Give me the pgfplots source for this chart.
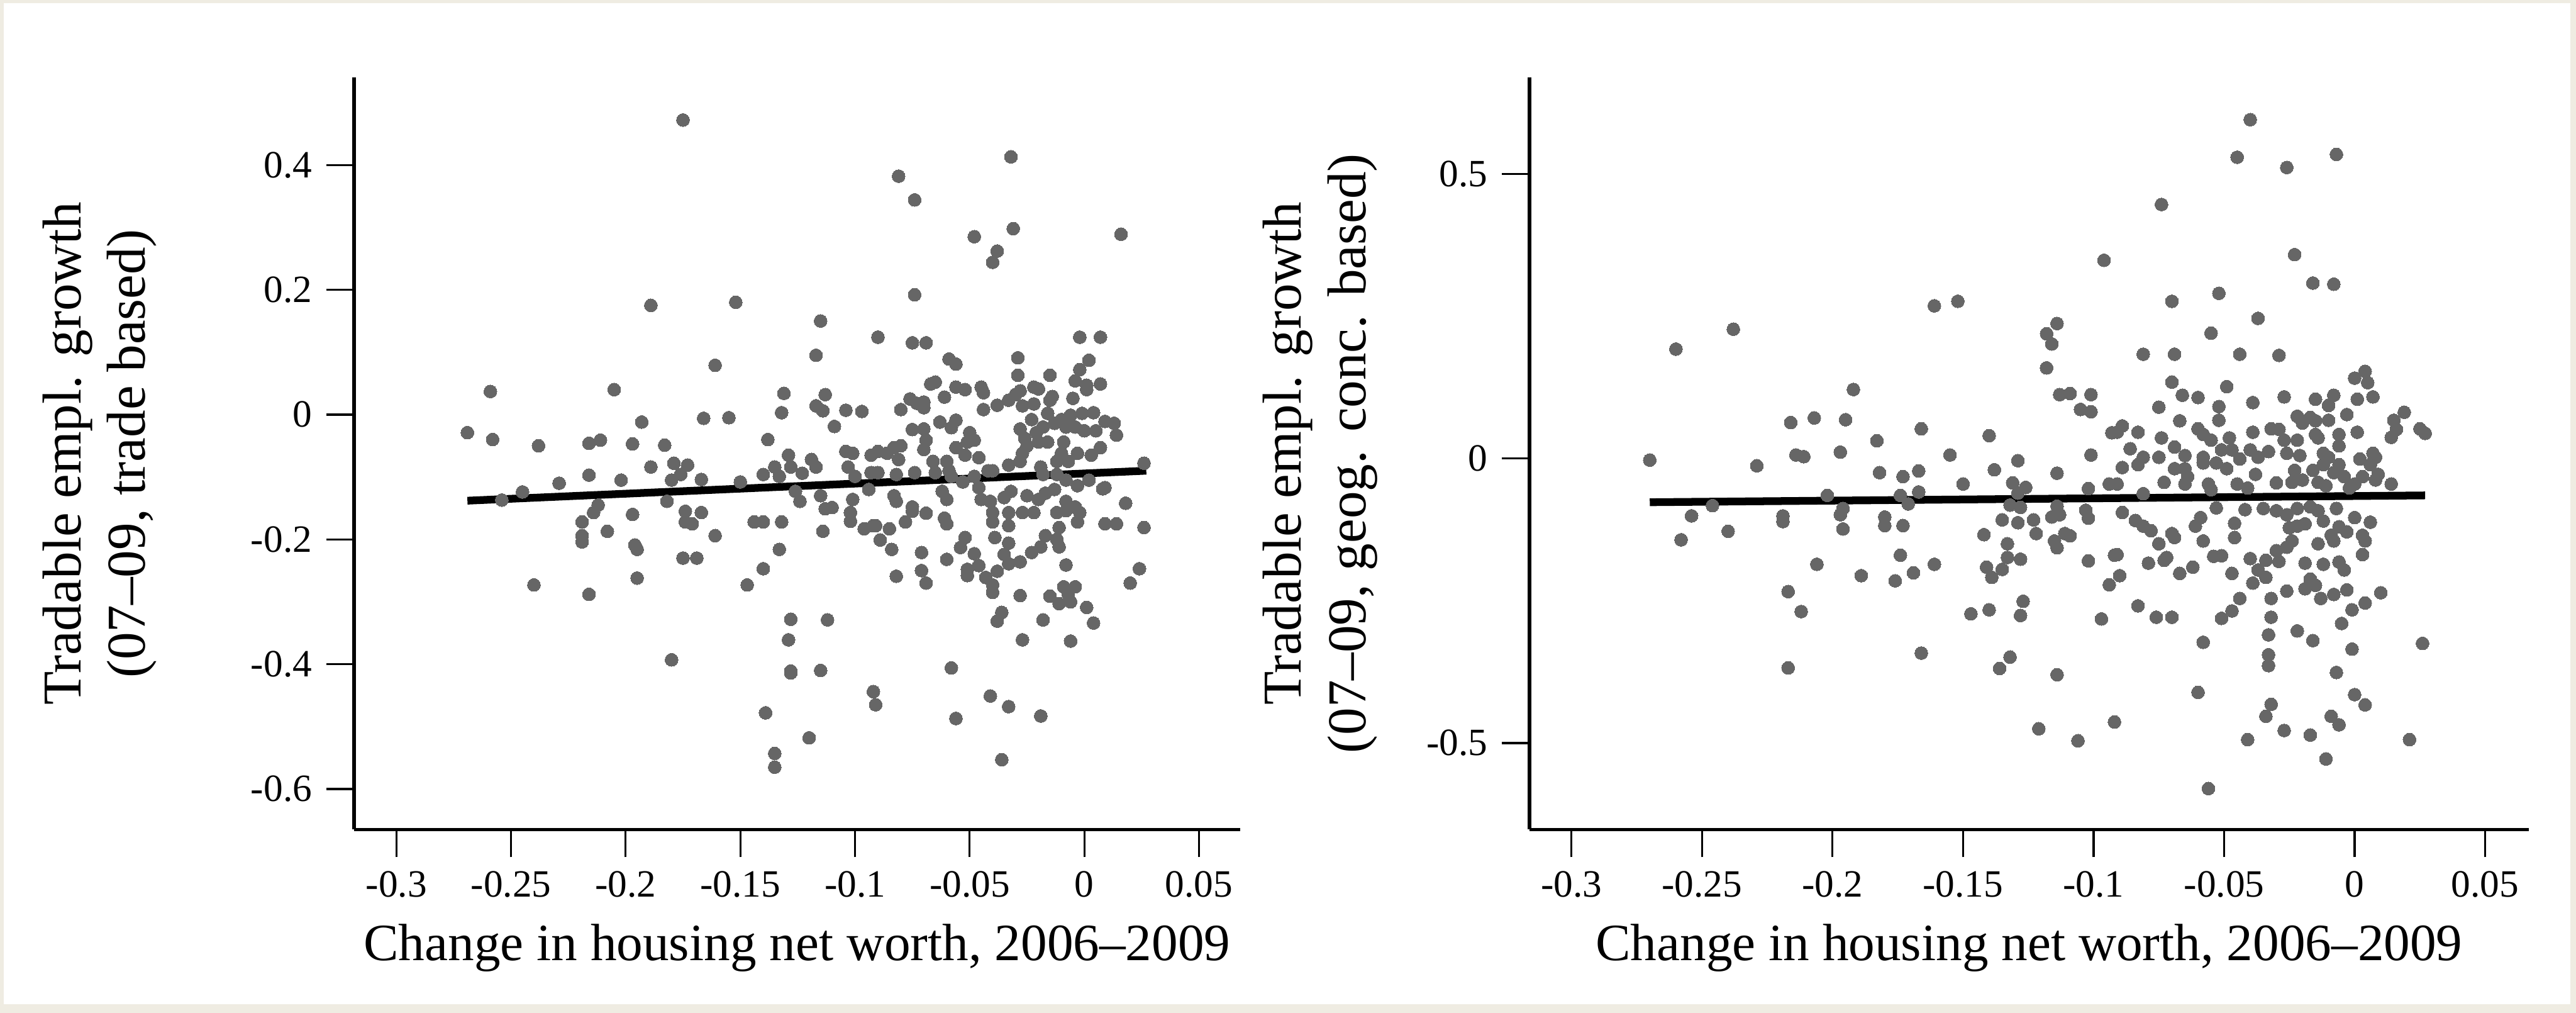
\documentclass[border=0pt]{standalone}
\usepackage{fontspec}
\setmainfont{Liberation Serif}
\usepackage{pgfplots}
\pgfplotsset{compat=1.18}

\definecolor{pagebg}{RGB}{239,236,226}
\definecolor{dotgray}{RGB}{102,102,102}

\pgfplotsset{
  panel/.style={
    scale only axis,
    height=185.2pt,
    axis x line*=bottom,
    axis y line*=left,
    axis line style={line width=0.9pt, -},
    tick align=outside,
    major tick length=6.8pt,
    every tick/.style={black, line width=0.5pt},
    tick label style={font=\fontsize{9.5}{11}\selectfont},
    xtick={-0.3,-0.25,-0.2,-0.15,-0.1,-0.05,0,0.05},
    xticklabels={-0.3,-0.25,-0.2,-0.15,-0.1,-0.05,0,0.05},
    xlabel={Change in housing net worth, 2006--2009},
    xlabel style={font=\fontsize{12.9}{15}\selectfont, at={(axis description cs:0.5,-0.174)}, anchor=base},
    ylabel style={font=\fontsize{13.5}{15.9}\selectfont, align=center, rotate=0, anchor=north, inner sep=0pt},
    clip=false,
  },
  dots/.style={only marks, mark=*, mark size=1.6pt, color=dotgray, mark options={fill=dotgray, draw=dotgray, line width=0pt}},
  fit/.style={black, line width=1.9pt, no marks},
}

\begin{document}
\begin{tikzpicture}
% page background and white panel
\fill[pagebg] (-87.2pt,-45.1pt) rectangle (547.5pt,204.3pt);
\fill[white] (-86.3pt,-43.0pt) rectangle (546.1pt,203.5pt);

% left panel: trade based
\begin{axis}[panel,
  at={(0pt,0pt)}, anchor=south west,
  width=218.4pt,
  xmin=-0.3185, xmax=0.068,
  ymin=-0.665, ymax=0.540,
  ytick={-0.6,-0.4,-0.2,0,0.2,0.4},
  yticklabels={-0.6,-0.4,-0.2,0,0.2,0.4},
  ylabel={Tradable empl. growth\\(07--09, trade based)},
  ylabel style={at={(axis description cs:-0.352,0.5)}},
]
\addplot[dots] coordinates {
(-0.269,-0.029)(-0.259,0.037)(-0.258,-0.040)(-0.254,-0.137)(-0.245,-0.124)(-0.240,-0.273)(-0.238,-0.050)(-0.229,-0.110)
(-0.216,-0.046)(-0.211,-0.041)(-0.197,-0.047)(-0.193,-0.012)(-0.183,-0.049)(-0.216,-0.097)(-0.202,-0.105)(-0.189,-0.084)
(-0.179,-0.078)(-0.173,-0.081)(-0.176,-0.096)(-0.180,-0.105)(-0.167,-0.104)(-0.150,-0.108)(-0.166,-0.006)(-0.155,-0.005)(-0.161,0.079)
(-0.140,-0.096)(-0.135,-0.084)(-0.133,-0.099)(-0.129,-0.065)(-0.128,-0.084)(-0.123,-0.094)(-0.119,-0.072)(-0.117,-0.084)
(-0.104,-0.059)(-0.101,-0.062)(-0.103,-0.084)(-0.100,-0.099)(-0.093,-0.065)(-0.093,-0.093)(-0.094,-0.120)
(-0.126,-0.123)(-0.124,-0.139)(-0.115,-0.130)(-0.113,-0.151)(-0.110,-0.149)(-0.101,-0.136)(-0.102,-0.157)(-0.102,-0.171)
(-0.096,-0.183)(-0.092,-0.178)(-0.114,-0.187)(-0.132,-0.172)(-0.144,-0.172)(-0.140,-0.172)(-0.133,-0.216)(-0.140,-0.247)
(-0.147,-0.273)(-0.128,-0.328)(-0.112,-0.329)(-0.129,-0.361)
(-0.161,-0.194)(-0.175,-0.230)(-0.169,-0.230)(-0.174,-0.155)(-0.167,-0.157)(-0.174,-0.172)(-0.171,-0.175)(-0.182,-0.139)
(-0.197,-0.160)(-0.196,-0.209)(-0.195,-0.216)(-0.195,-0.262)(-0.216,-0.288)(-0.208,-0.187)(-0.219,-0.194)(-0.219,-0.204)
(-0.219,-0.172)(-0.214,-0.157)(-0.212,-0.145)
(-0.205,0.040)(-0.189,0.175)(-0.175,0.472)(-0.152,0.180)(-0.138,-0.040)(-0.131,0.034)(-0.132,0.003)(-0.113,0.032)
(-0.117,0.014)(-0.114,0.006)(-0.104,0.007)(-0.097,0.005)(-0.109,-0.019)(-0.117,0.095)(-0.115,0.150)(-0.090,0.124)
(-0.180,-0.393)(-0.139,-0.478)(-0.135,-0.543)(-0.135,-0.565)(-0.128,-0.411)(-0.128,-0.414)(-0.120,-0.518)(-0.115,-0.410)
(-0.092,-0.444)(-0.091,-0.465)
(-0.075,0.115)(-0.069,0.115)(-0.059,0.089)(-0.056,0.081)(-0.002,0.124)(0.007,0.124)(-0.029,0.091)(-0.029,0.063)
(-0.015,0.063)(0.002,0.087)(-0.002,0.072)(-0.004,0.054)(0.001,0.047)(0.007,0.049)(0.001,0.040)(-0.067,0.049)
(-0.065,0.052)(-0.056,0.044)(-0.052,0.040)(-0.045,0.044)(-0.044,0.035)(-0.061,0.028)(-0.070,0.020)(-0.073,0.018)
(-0.076,0.025)(-0.070,0.011)(-0.080,0.008)(-0.044,0.008)(-0.038,0.015)(-0.033,0.023)(-0.030,0.032)(-0.028,0.038)
(-0.027,0.014)(-0.022,0.017)(-0.022,0.044)(-0.020,0.041)(-0.014,0.029)(-0.015,0.023)(-0.005,0.026)(-0.023,-0.008)
(-0.016,0.002)(-0.075,-0.024)(-0.070,-0.023)(-0.063,-0.012)(-0.056,-0.009)(-0.058,-0.021)(-0.069,-0.041)(-0.070,-0.056)
(-0.050,-0.029)(-0.048,-0.041)(-0.051,-0.044)(-0.056,-0.053)(-0.052,-0.065)(-0.046,-0.069)(-0.080,-0.050)(-0.083,-0.053)
(-0.090,-0.059)(-0.086,-0.062)(-0.081,-0.072)(-0.090,-0.093)(-0.082,-0.096)(-0.074,-0.093)(-0.066,-0.075)(-0.065,-0.093)
(-0.060,-0.075)(-0.059,-0.090)(-0.028,-0.023)(-0.026,-0.038)(-0.021,-0.029)(-0.018,-0.020)(-0.013,-0.014)(-0.010,-0.008)
(-0.006,-0.001)(-0.001,0.002)(0.004,0.003)(0.009,-0.011)(0.013,-0.014)(0.014,-0.033)(0.005,-0.026)(0.000,-0.026)
(-0.004,-0.020)(-0.008,-0.020)(0.007,-0.053)(0.003,-0.065)(-0.003,-0.062)(-0.009,-0.044)(-0.010,-0.062)(-0.012,-0.075)
(-0.007,-0.075)(-0.025,-0.050)(-0.027,-0.062)(-0.020,-0.044)(-0.016,-0.044)(-0.019,-0.084)(-0.028,-0.075)(-0.033,-0.081)
(-0.040,-0.090)(0.026,-0.078)(0.008,-0.119)(0.002,-0.105)(-0.003,-0.114)(-0.008,-0.105)(0.018,-0.142)(-0.083,-0.130)
(-0.082,-0.139)(-0.075,-0.148)(-0.062,-0.123)(-0.060,-0.136)(-0.053,-0.108)(-0.046,-0.117)(-0.045,-0.136)(-0.041,-0.139)
(-0.035,-0.133)(-0.032,-0.123)(-0.025,-0.130)(-0.020,-0.136)(-0.017,-0.126)(-0.013,-0.120)(-0.008,-0.139)(-0.004,-0.148)
(-0.058,-0.099)(-0.048,-0.099)(-0.042,-0.090)(-0.018,-0.096)(-0.012,-0.096)(0.009,-0.117)
(-0.075,-0.155)(-0.069,-0.158)(-0.061,-0.166)(-0.060,-0.175)(-0.091,-0.178)(-0.085,-0.183)(-0.078,-0.172)(-0.089,-0.201)
(-0.084,-0.216)(-0.071,-0.221)(-0.071,-0.250)(-0.069,-0.270)(-0.082,-0.259)(-0.060,-0.232)(-0.052,-0.197)(-0.054,-0.213)
(-0.048,-0.223)(-0.051,-0.248)(-0.051,-0.258)(-0.046,-0.242)(-0.043,-0.261)(-0.040,-0.273)(-0.040,-0.285)(-0.040,-0.157)
(-0.040,-0.172)(-0.033,-0.157)(-0.033,-0.178)(-0.027,-0.157)(-0.022,-0.157)(-0.039,-0.197)(-0.033,-0.206)(-0.035,-0.224)
(-0.033,-0.239)(-0.028,-0.236)(-0.023,-0.221)(-0.019,-0.212)(-0.017,-0.194)(-0.038,-0.251)(-0.012,-0.157)(-0.008,-0.154)
(-0.002,-0.157)(-0.003,-0.172)(-0.011,-0.181)(-0.012,-0.200)(-0.011,-0.212)(0.009,-0.175)(0.014,-0.175)(0.026,-0.181)
(-0.008,-0.241)(0.024,-0.247)(0.020,-0.270)(-0.028,-0.290)(-0.036,-0.317)(-0.038,-0.331)(-0.015,-0.291)(-0.009,-0.276)
(-0.004,-0.276)(-0.011,-0.303)(-0.006,-0.300)(-0.007,-0.288)(0.001,-0.309)(-0.018,-0.329)(0.004,-0.334)(-0.027,-0.361)
(-0.006,-0.363)(-0.058,-0.406)(-0.041,-0.451)(-0.033,-0.468)
(-0.081,0.382)(-0.074,0.344)(-0.074,0.192)(-0.032,0.413)(-0.031,0.298)(-0.048,0.285)(-0.038,0.262)(-0.040,0.244)
(0.016,0.289)(-0.056,-0.487)(-0.019,-0.483)(-0.036,-0.553)
};
\addplot[fit] coordinates {(-0.269,-0.138) (0.027,-0.090)};
\end{axis}

% right panel: geographic concentration based
\begin{axis}[panel,
  at={(289.7pt,0pt)}, anchor=south west,
  width=246.1pt,
  xmin=-0.316, xmax=0.0666,
  ymin=-0.652, ymax=0.669,
  ytick={-0.5,0,0.5},
  yticklabels={-0.5,0,0.5},
  ylabel={Tradable empl. growth\\(07--09, geog. conc. based)},
  ylabel style={at={(axis description cs:-0.268,0.5)}},
]
\addplot[dots] coordinates {
(-0.270,-0.003)(-0.260,0.192)(-0.258,-0.143)(-0.254,-0.101)(-0.246,-0.083)(-0.240,-0.128)(-0.238,0.227)(-0.229,-0.013)
(-0.219,-0.101)(-0.219,-0.111)(-0.217,-0.234)(-0.217,-0.368)(-0.216,0.063)(-0.214,0.006)(-0.211,0.003)(-0.212,-0.269)
(-0.207,0.071)(-0.206,-0.186)(-0.202,-0.065)
(-0.192,0.121)(-0.195,0.068)(-0.197,0.011)(-0.183,0.031)(-0.166,0.052)(-0.182,-0.025)(-0.173,-0.032)(-0.167,-0.022)
(-0.196,-0.088)(-0.197,-0.099)(-0.196,-0.124)(-0.174,-0.065)(-0.167,-0.059)(-0.171,-0.080)(-0.180,-0.103)(-0.180,-0.118)
(-0.173,-0.118)(-0.189,-0.206)(-0.174,-0.170)(-0.176,-0.215)(-0.169,-0.201)(-0.161,-0.186)(-0.166,-0.342)(-0.155,0.006)
(-0.150,-0.045)(-0.140,0.040)(-0.138,-0.020)(-0.129,-0.004)(-0.131,-0.043)(-0.126,-0.051)(-0.129,-0.061)(-0.132,-0.082)
(-0.128,-0.086)(-0.135,-0.108)(-0.129,-0.113)(-0.123,-0.108)(-0.122,-0.132)(-0.142,-0.134)(-0.133,-0.150)(-0.133,-0.174)
(-0.128,-0.177)(-0.141,-0.191)(-0.139,-0.209)(-0.135,-0.195)(-0.127,-0.251)(-0.128,-0.276)(-0.140,-0.266)(-0.147,-0.273)
(-0.132,-0.349)(-0.118,0.159)(-0.118,0.219)(-0.116,0.201)(-0.114,0.237)(-0.113,0.112)(-0.109,0.114)(-0.101,0.112)
(-0.105,0.086)(-0.101,0.082)(-0.114,-0.026)(-0.101,0.006)(-0.102,-0.053)(-0.103,-0.091)(-0.102,-0.105)(-0.114,-0.084)
(-0.116,-0.103)(-0.113,-0.099)(-0.111,-0.132)(-0.109,-0.136)(-0.115,-0.145)(-0.114,-0.157)(-0.102,-0.180)(-0.097,-0.282)
(-0.094,-0.222)(-0.092,-0.170)(-0.094,-0.045)(-0.093,0.045)
(-0.161,0.268)(-0.152,0.276)(-0.096,0.348)(-0.136,-0.369)(-0.114,-0.380)(-0.121,-0.475)(-0.106,-0.496)(-0.092,-0.463)
(-0.081,0.183)(-0.069,0.183)(-0.044,0.183)(-0.029,0.181)(-0.070,0.134)(-0.049,0.126)(-0.066,0.111)(-0.060,0.107)
(-0.075,0.090)(-0.052,0.091)(-0.052,0.067)(-0.039,0.098)(-0.027,0.108)(-0.067,0.066)(0.000,0.141)(0.004,0.153)
(0.005,0.133)(-0.015,0.104)(-0.008,0.111)(0.001,0.104)(0.007,0.108)(-0.003,0.077)(-0.010,0.067)(-0.010,0.093)
(-0.022,0.074)(-0.017,0.072)(-0.020,0.062)(-0.015,0.066)(0.019,0.081)(0.015,0.067)(0.016,0.051)(0.014,0.037)
(0.025,0.052)(0.027,0.044)(0.001,0.046)(-0.089,0.057)(-0.091,0.046)(-0.083,0.046)(-0.060,0.052)(-0.058,0.042)
(-0.055,0.032)(-0.074,0.036)(-0.075,0.002)(-0.069,0.020)(-0.065,0.005)(-0.086,0.017)(-0.089,-0.016)(-0.081,0.002)
(-0.083,-0.011)(-0.091,-0.045)(-0.048,0.036)(-0.047,0.015)(-0.051,0.015)(-0.044,-0.001)(-0.058,0.002)(-0.053,-0.008)
(-0.058,-0.008)(-0.049,-0.018)(-0.039,0.046)(-0.040,0.015)(-0.032,0.052)(-0.029,0.051)(-0.033,0.012)(-0.037,0.002)
(-0.038,-0.028)(-0.027,0.032)(-0.026,0.009)(-0.022,0.032)(-0.021,0.005)(-0.015,0.042)(-0.014,0.036)(-0.006,0.042)
(-0.006,0.022)(-0.012,0.009)(-0.010,0.002)(-0.012,-0.011)(0.007,0.009)(0.008,0.002)(0.002,-0.001)(0.006,-0.011)
(0.009,-0.028)(0.008,-0.038)(-0.006,-0.011)(-0.008,-0.025)(-0.004,-0.032)(-0.023,-0.021)(-0.016,-0.021)(-0.024,-0.042)
(-0.020,-0.038)(-0.014,-0.042)(-0.011,-0.048)(0.000,-0.045)(0.003,-0.032)(-0.002,-0.052)(0.014,-0.045)(-0.030,-0.043)
(-0.045,-0.045)(-0.041,-0.052)(-0.056,-0.045)(-0.055,-0.055)(-0.073,-0.042)(-0.065,-0.045)(-0.064,-0.032)(-0.069,-0.018)
(-0.065,-0.018)(-0.081,-0.062)
(-0.089,-0.095)(-0.084,-0.109)(-0.081,-0.119)(-0.078,-0.127)(-0.075,-0.150)(-0.070,-0.132)(-0.069,-0.139)(-0.072,-0.174)
(-0.073,-0.179)(-0.079,-0.184)(-0.091,-0.169)(-0.090,-0.206)(-0.067,-0.202)(-0.062,-0.191)(-0.059,-0.104)(-0.061,-0.119)
(-0.058,-0.145)(-0.053,-0.087)(-0.046,-0.114)(-0.046,-0.139)(-0.054,-0.172)(-0.051,-0.171)(-0.047,-0.202)(-0.042,-0.090)
(-0.035,-0.088)(-0.030,-0.092)(-0.026,-0.099)(-0.022,-0.088)(-0.017,-0.085)(-0.014,-0.092)(-0.025,-0.122)(-0.022,-0.119)
(-0.019,-0.115)(-0.024,-0.145)(-0.026,-0.156)(-0.012,-0.110)(-0.007,-0.088)(0.000,-0.104)(0.006,-0.112)(-0.006,-0.120)
(-0.003,-0.129)(-0.009,-0.135)(-0.014,-0.150)(-0.008,-0.145)(0.003,-0.135)(0.004,-0.145)(0.003,-0.169)(-0.040,-0.176)
(-0.034,-0.179)(-0.029,-0.181)(-0.030,-0.162)(-0.037,-0.196)(-0.039,-0.219)(-0.034,-0.209)(-0.019,-0.184)(-0.012,-0.186)
(-0.006,-0.182)(-0.004,-0.196)(-0.017,-0.212)(-0.019,-0.229)(-0.015,-0.223)(-0.026,-0.233)(-0.013,-0.246)(-0.008,-0.239)
(-0.003,-0.231)(0.010,-0.236)(0.004,-0.254)(-0.001,-0.266)(-0.005,-0.290)(-0.032,-0.246)(-0.032,-0.279)(-0.033,-0.310)
(-0.033,-0.345)(-0.044,-0.246)(-0.047,-0.268)(-0.051,-0.281)(-0.058,-0.323)(-0.022,-0.303)(-0.016,-0.320)(-0.001,-0.335)
(0.026,-0.325)(-0.083,-0.259)(-0.076,-0.279)(-0.070,-0.279)
(-0.040,0.595)(-0.045,0.529)(-0.026,0.511)(-0.007,0.534)(-0.074,0.446)(-0.023,0.358)(-0.016,0.308)(-0.008,0.306)
(-0.070,0.276)(-0.052,0.290)(-0.037,0.246)(-0.055,0.220)
(-0.033,-0.364)(-0.007,-0.376)(0.000,-0.415)(0.004,-0.433)(-0.060,-0.411)(-0.032,-0.432)(-0.034,-0.453)(-0.027,-0.478)
(-0.017,-0.486)(-0.041,-0.494)(-0.009,-0.453)(-0.006,-0.468)(-0.011,-0.528)(-0.056,-0.580)(0.021,-0.494)
};
\addplot[fit] coordinates {(-0.270,-0.077) (0.027,-0.065)};
\end{axis}

\pgfresetboundingbox
\path[use as bounding box] (-87.2pt,-45.1pt) rectangle (547.5pt,204.3pt);
\end{tikzpicture}
\end{document}
